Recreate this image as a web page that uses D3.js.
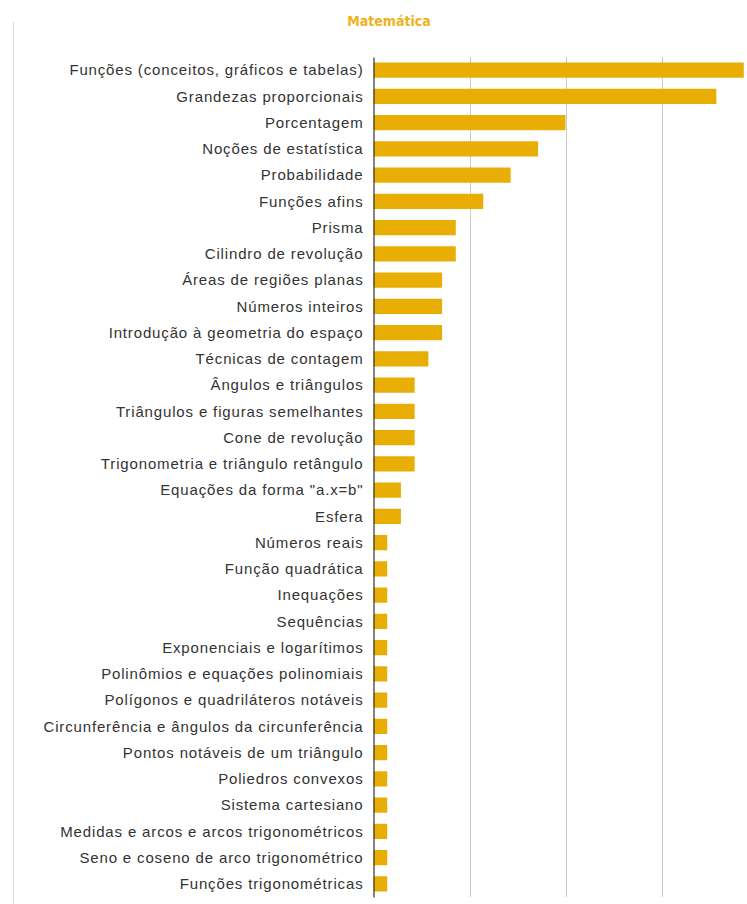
<!DOCTYPE html>
<html>
<head>
<meta charset="utf-8">
<script src="https://cdn.jsdelivr.net/npm/d3@7"></script>
<style>
  html, body { margin: 0; padding: 0; background: #fff; }
  svg { display: block; }
</style>
</head>
<body>
<svg id="chart" width="747" height="904"></svg>
<script>
// Topics, top to bottom
const topics = [
  "Funções (conceitos, gráficos e tabelas)",
  "Grandezas proporcionais",
  "Porcentagem",
  "Noções de estatística",
  "Probabilidade",
  "Funções afins",
  "Prisma",
  "Cilindro de revolução",
  "Áreas de regiões planas",
  "Números inteiros",
  "Introdução à geometria do espaço",
  "Técnicas de contagem",
  "Ângulos e triângulos",
  "Triângulos e figuras semelhantes",
  "Cone de revolução",
  "Trigonometria e triângulo retângulo",
  "Equações da forma \"a.x=b\"",
  "Esfera",
  "Números reais",
  "Função quadrática",
  "Inequações",
  "Sequências",
  "Exponenciais e logarítimos",
  "Polinômios e equações polinomiais",
  "Polígonos e quadriláteros notáveis",
  "Circunferência e ângulos da circunferência",
  "Pontos notáveis de um triângulo",
  "Poliedros convexos",
  "Sistema cartesiano",
  "Medidas e arcos e arcos trigonométricos",
  "Seno e coseno de arco trigonométrico",
  "Funções trigonométricas"
];

// Number of questions per topic
const counts = [
  27, 25, 14, 12, 10, 8, 6, 6, 5, 5, 5, 4, 3, 3, 3, 3,
  2, 2, 1, 1, 1, 1, 1, 1, 1, 1, 1, 1, 1, 1, 1, 1
];

// Gridline positions on the value axis
const gridValues = [7, 14, 21, 28];

const chartTitle = "Matemática";

const svg = d3.select("#chart");

const x = d3.scaleLinear().domain([0, 28]).range([373.5, 757.5]);
const y = d3.scaleBand()
  .domain(topics)
  .range([57, 897])
  .paddingInner(0.42)
  .paddingOuter(0.21);

// Light frame line on the left edge
svg.append("line")
  .attr("x1", 13.5).attr("x2", 13.5)
  .attr("y1", 22).attr("y2", 904)
  .attr("stroke", "#dcdcdc").attr("stroke-width", 1);

// Vertical gridlines
svg.append("g")
  .selectAll("line")
  .data(gridValues)
  .join("line")
  .attr("x1", d => Math.round(x(d)) + 0.5)
  .attr("x2", d => Math.round(x(d)) + 0.5)
  .attr("y1", 57).attr("y2", 897)
  .attr("stroke", "#cccccc").attr("stroke-width", 1);

// Bars
svg.append("g")
  .selectAll("rect")
  .data(topics.map((t, i) => ({ topic: t, value: counts[i] })))
  .join("rect")
  .attr("x", x(0))
  .attr("y", d => y(d.topic))
  .attr("width", d => x(d.value) - x(0))
  .attr("height", y.bandwidth())
  .attr("fill", "#e9ae03");

// Category axis
const yAxis = d3.axisLeft(y).tickSize(0).tickPadding(10);
const gy = svg.append("g")
  .attr("transform", `translate(${x(0)},0)`)
  .call(yAxis);
gy.select(".domain").attr("stroke", "#333").attr("stroke-width", 1.2);
gy.selectAll("text")
  .attr("fill", "#333")
  .attr("dy", "0.35em")
  .style("font-family", "'Liberation Sans', Arial, sans-serif")
  .style("font-size", "15px")
  .style("letter-spacing", "0.85px");

// Title
svg.append("text")
  .attr("x", 389)
  .attr("y", 26)
  .attr("text-anchor", "middle")
  .attr("fill", "#efb21a")
  .style("font-family", "'DejaVu Sans Condensed', 'DejaVu Sans', sans-serif")
  .style("font-stretch", "condensed")
  .style("font-weight", "bold")
  .style("font-size", "14px")
  .text(chartTitle);
</script>
</body>
</html>
